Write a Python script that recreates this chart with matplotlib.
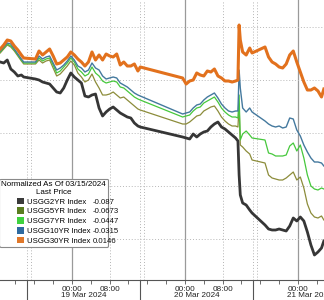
import matplotlib
matplotlib.use("Agg")
import matplotlib.pyplot as plt
import matplotlib.dates as mdates
import matplotlib.transforms as mtransforms
from matplotlib.patches import Patch
from matplotlib.ticker import FixedLocator, FuncFormatter
import numpy as np
import pandas as pd

plt.rcParams["font.family"] = ["Liberation Sans", "DejaVu Sans"]

# Sample times, hours after 18 Mar 2024 00:00 (gaps are session breaks)
hours = [
    8.75, 9.5, 10.25, 11, 11.75, 12.5, 13.25, 13.75,
    16.25, 17, 17.75, 18.5, 19.25, 20, 20.75, 21.5, 22.25, 23, 23.75,
    24.5, 25.25, 26, 26.75, 27.5, 28.25, 29, 29.75, 30.5, 31.25, 32,
    32.75, 33.5, 34.25, 35, 35.75, 36.5, 37.25, 38, 38.5,
    47.5, 48.25, 49, 49.75, 50.5, 51.25, 52, 52.75, 53.5, 54.25, 55,
    55.75, 56.5, 57.25, 58, 58.75, 59.25, 59.5, 59.75, 60.25, 61, 61.75, 62.25,
    65, 65.75, 66.5, 67.25, 68, 68.75, 69.5, 70.25, 71, 71.75, 72.5,
    73.25, 74, 74.75, 75.5, 76.25, 77, 77.5,
]

usgg2yr = [
    0.0300, 0.0294, 0.0312, 0.0258, 0.0240, 0.0216, 0.0222, 0.0210,
    0.0198, 0.0192, 0.0180, 0.0174, 0.0168, 0.0144, 0.0120, 0.0114, 0.0144, 0.0192, 0.0234,
    0.0210, 0.0192, 0.0174, 0.0096, 0.0090, 0.0102, 0.0108, 0.0024, -0.0024, 0.0000, 0.0018,
    0.0030, 0.0012, -0.0006, -0.0018, -0.0030, -0.0036, -0.0066, -0.0084, -0.0090,
    -0.0150, -0.0156, -0.0162, -0.0132, -0.0150, -0.0132, -0.0120, -0.0114, -0.0090, -0.0072, -0.0060,
    -0.0090, -0.0102, -0.0120, -0.0138, -0.0156, -0.0174, -0.0378, -0.0498, -0.0546, -0.0558, -0.0588, -0.0606,
    -0.0678, -0.0702, -0.0708, -0.0708, -0.0702, -0.0708, -0.0714, -0.0684, -0.0636, -0.0654, -0.0630,
    -0.0654, -0.0720, -0.0798, -0.0858, -0.0840, -0.0816, -0.0774,
]

usgg5yr = [
    0.0354, 0.0378, 0.0402, 0.0390, 0.0366, 0.0336, 0.0306, 0.0288,
    0.0288, 0.0312, 0.0294, 0.0306, 0.0312, 0.0264, 0.0216, 0.0228, 0.0252, 0.0276, 0.0306,
    0.0282, 0.0234, 0.0210, 0.0180, 0.0192, 0.0228, 0.0180, 0.0144, 0.0102, 0.0102, 0.0108,
    0.0120, 0.0102, 0.0084, 0.0090, 0.0072, 0.0054, 0.0036, 0.0018, 0.0012,
    -0.0072, -0.0072, -0.0060, -0.0042, -0.0024, -0.0018, 0.0006, 0.0018, 0.0030, 0.0036, 0.0006,
    -0.0030, -0.0054, -0.0072, -0.0084, -0.0084, -0.0090, 0.0042, -0.0198, -0.0210, -0.0234, -0.0252, -0.0288,
    -0.0306, -0.0378, -0.0396, -0.0402, -0.0408, -0.0408, -0.0396, -0.0378, -0.0360, -0.0408, -0.0390,
    -0.0456, -0.0552, -0.0606, -0.0630, -0.0636, -0.0624, -0.0648,
]

usgg7yr = [
    0.0360, 0.0384, 0.0408, 0.0396, 0.0372, 0.0342, 0.0312, 0.0294,
    0.0294, 0.0324, 0.0306, 0.0318, 0.0324, 0.0282, 0.0234, 0.0246, 0.0270, 0.0294, 0.0324,
    0.0300, 0.0258, 0.0240, 0.0216, 0.0228, 0.0270, 0.0234, 0.0216, 0.0186, 0.0174, 0.0180,
    0.0186, 0.0180, 0.0150, 0.0144, 0.0126, 0.0108, 0.0090, 0.0078, 0.0072,
    -0.0030, -0.0024, -0.0018, 0.0006, 0.0024, 0.0030, 0.0054, 0.0066, 0.0078, 0.0090, 0.0060,
    0.0024, 0.0000, -0.0018, -0.0030, -0.0030, -0.0036, 0.0102, -0.0168, -0.0132, -0.0114, -0.0138, -0.0156,
    -0.0168, -0.0246, -0.0252, -0.0264, -0.0264, -0.0264, -0.0258, -0.0204, -0.0186, -0.0234, -0.0198,
    -0.0276, -0.0378, -0.0444, -0.0462, -0.0468, -0.0456, -0.0462,
]

usgg10yr = [
    0.0366, 0.0390, 0.0414, 0.0408, 0.0378, 0.0348, 0.0318, 0.0300,
    0.0300, 0.0336, 0.0318, 0.0330, 0.0336, 0.0294, 0.0252, 0.0264, 0.0282, 0.0306, 0.0336,
    0.0312, 0.0276, 0.0264, 0.0240, 0.0252, 0.0294, 0.0264, 0.0252, 0.0216, 0.0198, 0.0204,
    0.0210, 0.0204, 0.0174, 0.0162, 0.0150, 0.0132, 0.0114, 0.0102, 0.0096,
    -0.0012, -0.0006, 0.0000, 0.0024, 0.0042, 0.0048, 0.0072, 0.0090, 0.0102, 0.0114, 0.0084,
    0.0048, 0.0024, 0.0006, 0.0000, 0.0006, 0.0006, 0.0252, 0.0144, 0.0024, 0.0000, 0.0024, 0.0000,
    -0.0054, -0.0072, -0.0084, -0.0090, -0.0084, -0.0096, -0.0090, -0.0036, -0.0042, -0.0108, -0.0144,
    -0.0198, -0.0240, -0.0276, -0.0300, -0.0300, -0.0306, -0.0324,
]

usgg30yr = [
    0.0378, 0.0402, 0.0432, 0.0426, 0.0396, 0.0372, 0.0342, 0.0324,
    0.0318, 0.0366, 0.0342, 0.0360, 0.0378, 0.0336, 0.0288, 0.0294, 0.0312, 0.0330, 0.0360,
    0.0342, 0.0318, 0.0300, 0.0276, 0.0300, 0.0360, 0.0312, 0.0342, 0.0312, 0.0348, 0.0336,
    0.0330, 0.0348, 0.0282, 0.0300, 0.0276, 0.0276, 0.0288, 0.0246, 0.0270,
    0.0204, 0.0168, 0.0186, 0.0192, 0.0234, 0.0222, 0.0216, 0.0246, 0.0240, 0.0258, 0.0216,
    0.0204, 0.0186, 0.0186, 0.0180, 0.0186, 0.0192, 0.0522, 0.0432, 0.0360, 0.0342, 0.0384, 0.0354,
    0.0390, 0.0330, 0.0300, 0.0288, 0.0270, 0.0264, 0.0288, 0.0342, 0.0366, 0.0300, 0.0240,
    0.0180, 0.0132, 0.0132, 0.0144, 0.0126, 0.0090, 0.0138,
]

series_names = ["USGG2YR Index", "USGG5YR Index", "USGG7YR Index",
                "USGG10YR Index", "USGG30YR Index"]
last_prices = ["-0.087", "-0.0673", "-0.0447", "-0.0315", "0.0146"]
day_labels = ["19 Mar 2024", "20 Mar 2024", "21 Mar 2024"]

LINE_COLORS = {
    "USGG2YR Index": "#363636",
    "USGG5YR Index": "#8c8c3a",
    "USGG7YR Index": "#46c83c",
    "USGG10YR Index": "#44799e",
    "USGG30YR Index": "#e2711d",
}
SWATCH_COLORS = ["#3a3a3a", "#5a7d20", "#3fd23f", "#2e6aa0", "#e0782a"]
TEXT_SIZE = 5.6

start = pd.Timestamp("2024-03-18")
times = start + pd.to_timedelta(hours, unit="h")

fig = plt.figure(figsize=(3.24, 3.0), dpi=100)
ax = fig.add_axes([0, 20 / 300, 1, 280 / 300])

# gridlines first so the lines sit on top
dotted = dict(color="#b4b4b4", lw=0.7, ls=(0, (1, 2)), zorder=1)
for d in range(1, 4):
    day = start + pd.Timedelta(days=d)
    ax.axvline(day, color="#9a9a9a", lw=0.9, zorder=1)
    ax.axvline(day + pd.Timedelta(hours=8), **dotted)
for d in range(0, 3):
    day = start + pd.Timedelta(days=d)
    for h in (14.5, 15.25):
        ax.axvline(day + pd.Timedelta(hours=h), **dotted)

draw = [
    ("USGG5YR Index", usgg5yr, 0.9),
    ("USGG7YR Index", usgg7yr, 0.9),
    ("USGG10YR Index", usgg10yr, 1.0),
    ("USGG2YR Index", usgg2yr, 2.0),
    ("USGG30YR Index", usgg30yr, 2.2),
]
for name, vals, lw in draw:
    ax.plot(times, vals, color=LINE_COLORS[name], lw=lw, zorder=3)

ax.set_xlim(start + pd.Timedelta(hours=8.71), start + pd.Timedelta(hours=77.53))
ax.set_ylim(-0.1008, 0.0672)

ax.set_yticks(np.arange(0.051, -0.09, -0.0318))
ax.yaxis.grid(True, color="#b8b8b8", lw=0.7, ls=(0, (1, 2)))
ax.tick_params(axis="y", left=False, labelleft=False)

# x axis: long separators at session breaks, short ticks every 4 hours
seps = [start + pd.Timedelta(days=d, hours=14.5) for d in range(0, 3)]
ax.xaxis.set_major_locator(FixedLocator(mdates.date2num(seps)))
ax.xaxis.set_major_formatter(FuncFormatter(lambda x, p: ""))
ax.xaxis.set_minor_locator(mdates.HourLocator(byhour=range(0, 24, 4)))


def hour_label(x, pos):
    dt = mdates.num2date(x)
    return dt.strftime("%H:%M") if dt.hour in (0, 8) else ""


ax.xaxis.set_minor_formatter(FuncFormatter(hour_label))
ax.tick_params(axis="x", which="major", length=20, width=0.8, color="#555555")
ax.tick_params(axis="x", which="minor", length=3, width=0.6, color="#555555",
               labelsize=TEXT_SIZE + 0.3, pad=1.2, labelcolor="#222222")

for s in ["top", "left", "right"]:
    ax.spines[s].set_visible(False)
ax.spines["bottom"].set_color("#555555")
ax.spines["bottom"].set_linewidth(0.8)

trans = mtransforms.blended_transform_factory(ax.transData, ax.transAxes)
for d, lbl in enumerate(day_labels):
    mid = start + pd.Timedelta(days=d + 1, hours=2.5)
    ax.text(mid, -0.043, lbl, transform=trans, ha="center", va="top",
            fontsize=TEXT_SIZE + 0.3, color="#222222", clip_on=False)

# legend: names next to swatches, last price in its own column
handles = [Patch(facecolor=c, edgecolor="none") for c in SWATCH_COLORS]
leg = ax.legend(handles, series_names,
                title="Normalized As Of 03/15/2024\nLast Price",
                loc="upper left", bbox_to_anchor=(-0.003, 0.362),
                fontsize=TEXT_SIZE, title_fontsize=TEXT_SIZE + 0.2,
                handlelength=0.95, handleheight=0.95, handletextpad=0.35,
                labelspacing=0.22, borderpad=0.3, borderaxespad=0,
                frameon=True, fancybox=True, framealpha=1, alignment="center")
leg.get_title().set_multialignment("center")
leg.get_frame().set_edgecolor("#8a8a8a")
leg.get_frame().set_linewidth(0.8)
leg.set_zorder(5)

fig.canvas.draw()
renderer = fig.canvas.get_renderer()
name_boxes = [t.get_window_extent(renderer) for t in leg.get_texts()]
value_x = max(bb.x1 for bb in name_boxes) + 2
for bb, val in zip(name_boxes, last_prices):
    fig.text(value_x / fig.bbox.width, (bb.y0 + bb.y1) / 2 / fig.bbox.height, val,
             ha="left", va="center", fontsize=TEXT_SIZE, color="#111111",
             zorder=6)

plt.savefig("out.png", dpi=100)
